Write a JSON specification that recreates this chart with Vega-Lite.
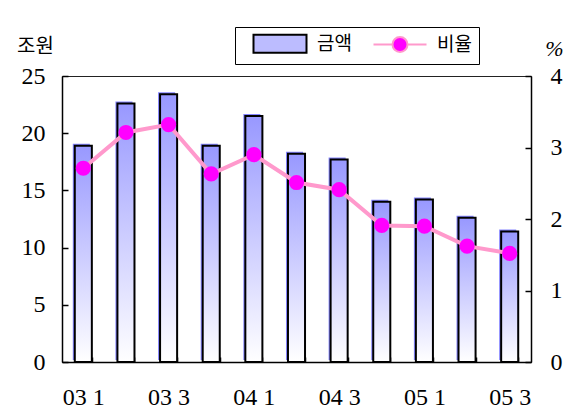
{
  "$schema": "https://vega.github.io/schema/vega-lite/v6.json",
  "width": 469,
  "height": 286,
  "autosize": "none",
  "padding": {"left": 62, "top": 76, "right": 43, "bottom": 50},
  "background": "white",
  "config": {
    "font": "Liberation Serif",
    "view": {"stroke": "#222222", "strokeWidth": 1},
    "axis": {
      "labelFont": "Liberation Serif",
      "labelFontSize": 24,
      "labelColor": "#000000",
      "domainColor": "#000000",
      "domainWidth": 1.5,
      "tickColor": "#000000",
      "tickWidth": 1.5,
      "grid": false
    }
  },
  "data": {
    "values": [
      {"q": "03 1", "amt": 18.9, "ratio": 2.71},
      {"q": "03 2", "amt": 22.6, "ratio": 3.21},
      {"q": "03 3", "amt": 23.4, "ratio": 3.32},
      {"q": "03 4", "amt": 18.9, "ratio": 2.63},
      {"q": "04 1", "amt": 21.5, "ratio": 2.9},
      {"q": "04 2", "amt": 18.2, "ratio": 2.51},
      {"q": "04 3", "amt": 17.7, "ratio": 2.41},
      {"q": "04 4", "amt": 14.0, "ratio": 1.91},
      {"q": "05 1", "amt": 14.2, "ratio": 1.9},
      {"q": "05 2", "amt": 12.6, "ratio": 1.62},
      {"q": "05 3", "amt": 11.4, "ratio": 1.52}
    ]
  },
  "encoding": {
    "x": {
      "field": "q",
      "type": "ordinal",
      "sort": null,
      "scale": {"paddingInner": 0.6, "paddingOuter": 0.3},
      "axis": {
        "title": null,
        "labelFont": "Liberation Serif",
        "labelAngle": 0,
        "labelOverlap": false,
        "tickBand": "extent",
        "tickSize": -5,
        "labelPadding": 28,
        "labelBaseline": "top",
        "labelExpr": "indexof(['03 1','03 3','04 1','04 3','05 1','05 3'], datum.value) >= 0 ? datum.value : ''"
      }
    }
  },
  "layer": [
    {
      "encoding": {
        "y": {
          "field": "amt",
          "type": "quantitative",
          "scale": {"domain": [0, 25]},
          "axis": {
            "orient": "left",
            "values": [0, 5, 10, 15, 20, 25],
            "labelFont": "Liberation Serif",
            "tickSize": -6,
            "labelPadding": 23,
            "title": "조원",
            "titleAngle": 0,
            "titleX": -27,
            "titleY": -30,
            "titleAlign": "center",
            "titleBaseline": "middle",
            "titleFont": "Noto Sans CJK KR",
            "titleFontSize": 20,
            "titleFontWeight": "normal",
            "titleColor": "#000000"
          }
        }
      },
      "layer": [
        {
          "mark": {"type": "bar", "color": "#8585ff", "xOffset": -2, "yOffset": -2}
        },
        {
          "mark": {
            "type": "bar",
            "fill": {
              "gradient": "linear",
              "x1": 0, "y1": 0, "x2": 0, "y2": 1,
              "stops": [
                {"offset": 0, "color": "#9898ff"},
                {"offset": 1, "color": "#ffffff"}
              ]
            },
            "stroke": "#000000",
            "strokeWidth": 2
          }
        }
      ]
    },
    {
      "encoding": {
        "y": {
          "field": "ratio",
          "type": "quantitative",
          "scale": {"domain": [0, 4]},
          "axis": {
            "orient": "right",
            "values": [0, 1, 2, 3, 4],
            "labelFont": "Liberation Serif",
            "tickSize": -6,
            "labelPadding": 25,
            "title": "%",
            "titleAngle": 0,
            "titleX": 23,
            "titleY": -28,
            "titleAlign": "center",
            "titleBaseline": "middle",
            "titleFont": "Liberation Serif",
            "titleFontStyle": "italic",
            "titleFontSize": 22,
            "titleFontWeight": "normal",
            "titleColor": "#000000"
          }
        }
      },
      "layer": [
        {
          "mark": {"type": "line", "color": "#ff99cc", "strokeWidth": 4}
        },
        {
          "mark": {"type": "point", "filled": true, "color": "#ff00ff", "size": 230, "opacity": 1}
        }
      ]
    },
    {
      "mark": {"type": "point", "opacity": 0},
      "encoding": {
        "shape": {
          "datum": "금액",
          "type": "nominal",
          "scale": {
            "domain": ["금액", "비율"],
            "range": [
              "M-5.3,-1.8H5.3V1.8H-5.3Z",
              "M-5.3,0H-1.5M1.5,0H5.3M1.5,0A1.5,1.5,0,1,1,-1.5,0A1.5,1.5,0,1,1,1.5,0Z"
            ]
          },
          "legend": {
            "orient": "none",
            "legendX": 173,
            "legendY": -49,
            "direction": "horizontal",
            "title": null,
            "strokeColor": "#000000",
            "fillColor": "#ffffff",
            "padding": 7,
            "symbolSize": 100,
            "symbolOffset": 28.5,
            "labelOffset": 27.5,
            "columnPadding": 10,
            "symbolStrokeWidth": 2,
            "symbolOpacity": 1,
            "symbolFillColor": "#ffffff",
            "symbolStrokeColor": "#000000",
            "labelFont": "Noto Sans CJK KR",
            "labelFontSize": 19,
            "labelColor": "#000000"
          }
        },
        "fill": {
          "datum": "금액",
          "type": "nominal",
          "scale": {"domain": ["금액", "비율"], "range": ["#bcbcff", "#ff00ff"]}
        },
        "stroke": {
          "datum": "금액",
          "type": "nominal",
          "scale": {"domain": ["금액", "비율"], "range": ["#000000", "#ff99cc"]}
        }
      }
    }
  ],
  "resolve": {"scale": {"y": "independent"}}
}
